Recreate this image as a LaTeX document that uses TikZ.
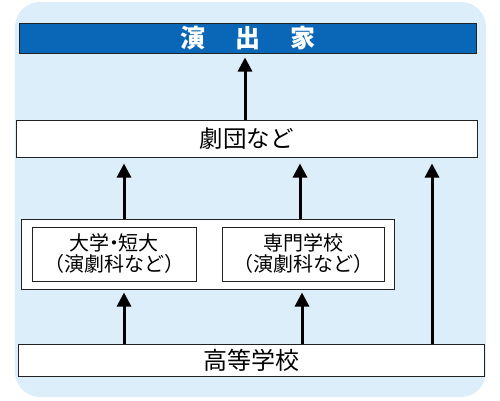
\documentclass[tikz,border=0pt]{standalone}
\usepackage{fontspec}
\setmainfont{Noto Sans CJK JP}
\usetikzlibrary{arrows.meta}
\definecolor{bgblue}{HTML}{DDEEFB}
\definecolor{titleblue}{HTML}{0A67B7}
\definecolor{edge}{HTML}{222222}
\tikzset{
  box/.style={draw=edge, line width=1pt, fill=white, inner sep=0pt, align=center},
  uparrow/.style={line width=3pt, -{Triangle[width=14pt,length=14pt]}},
  subtext/.style={font=\fontsize{20}{21}\selectfont},
}
\newcommand{\ndot}{\kern-0.28em・\kern-0.28em}
\begin{document}
\begin{tikzpicture}[x=1pt,y=-1pt]
\useasboundingbox (0,0) rectangle (500,400);
\fill[bgblue, rounded corners=25pt] (15,2) rectangle (486,397);
\node[box, fill=titleblue, minimum width=457pt, minimum height=30pt, text=white, font=\fontsize{25}{25}\selectfont\bfseries] (title) at (247.5,38) {演\hspace{30pt}出\hspace{30pt}家};
\node[box, minimum width=461pt, minimum height=37pt, font=\fontsize{23.5}{24}\selectfont] (troupe) at (246.5,138.5) {劇団など};
\node[box, minimum width=373pt, minimum height=70pt] (mid) at (207.5,254) {};
\node[box, line width=0.8pt, minimum width=164pt, minimum height=54pt, subtext] (univ) at (114,254) {大学\ndot 短大\\（演劇科など）};
\node[box, line width=0.8pt, minimum width=162pt, minimum height=54pt, subtext] (voc) at (303,254) {専門学校\\（演劇科など）};
\node[box, minimum width=466pt, minimum height=32pt, font=\fontsize{24}{24}\selectfont] (high) at (251,360) {高等学校};
\coordinate (xa) at (245,0);
\coordinate (xb) at (124,0);
\coordinate (xc) at (300,0);
\coordinate (xd) at (302,0);
\coordinate (xe) at (432,0);
\draw[uparrow, shorten >=4pt] (troupe.north -| xa) -- (title.south -| xa);
\draw[uparrow, shorten >=6pt] (mid.north -| xb) -- (troupe.south -| xb);
\draw[uparrow, shorten >=6pt] (mid.north -| xc) -- (troupe.south -| xc);
\draw[uparrow, shorten >=6pt] (high.north -| xe) -- (troupe.south -| xe);
\draw[uparrow, shorten >=3pt] (high.north -| xb) -- (mid.south -| xb);
\draw[uparrow, shorten >=3pt] (high.north -| xd) -- (mid.south -| xd);
\end{tikzpicture}
\end{document}
